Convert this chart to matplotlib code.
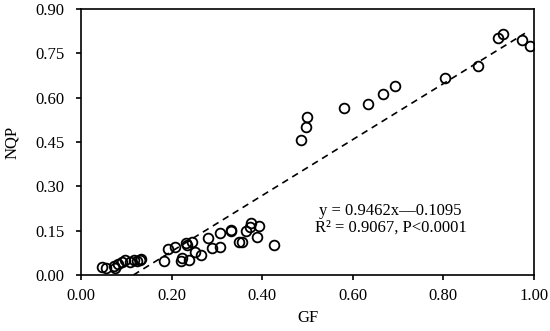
import matplotlib
matplotlib.use("Agg")
import matplotlib.pyplot as plt
import numpy as np

gf = [0.055, 0.047, 0.073, 0.076, 0.082, 0.090, 0.098, 0.108, 0.117, 0.123, 0.133, 0.131,
      0.183, 0.191, 0.207, 0.220, 0.224, 0.232, 0.234, 0.239, 0.246, 0.252, 0.264,
      0.281, 0.289, 0.306, 0.307, 0.331, 0.332, 0.356, 0.348, 0.365, 0.376, 0.373,
      0.392, 0.388, 0.426,
      0.485, 0.496, 0.499, 0.580, 0.633, 0.667, 0.694, 0.804, 0.876, 0.920, 0.931,
      0.973, 0.991]
nqp = [0.023, 0.026, 0.032, 0.025, 0.037, 0.043, 0.051, 0.045, 0.052, 0.047, 0.053, 0.050,
       0.046, 0.088, 0.096, 0.048, 0.056, 0.107, 0.101, 0.052, 0.113, 0.077, 0.068,
       0.124, 0.090, 0.141, 0.096, 0.153, 0.150, 0.113, 0.111, 0.150, 0.176, 0.164,
       0.165, 0.127, 0.101,
       0.457, 0.500, 0.536, 0.564, 0.577, 0.611, 0.638, 0.668, 0.708, 0.803, 0.815,
       0.795, 0.776]
slope, intercept = 0.9462, -0.1095
fit_x = [-intercept / slope, 0.98]
xticks = [0.0, 0.2, 0.4, 0.6, 0.8, 1.0]
yticks = [0.0, 0.15, 0.30, 0.45, 0.60, 0.75, 0.90]

plt.rcParams['font.family'] = ['Liberation Serif', 'DejaVu Serif']
fig = plt.figure(figsize=(5.5, 3.31), dpi=100)
ax = fig.add_axes([81/550, 1-275/331, (534-81)/550, (275-9)/331])

ax.plot(gf, nqp, linestyle='none', marker='o', ms=7, mfc='none', mec='black', mew=1.3, zorder=3)
fx = np.array(fit_x)
ax.plot(fx, slope*fx + intercept, 'k--', lw=1.2, dashes=(4, 3))

ax.set_xlim(0, 1.0)
ax.set_ylim(0, 0.9)
ax.set_xticks(xticks)
ax.set_yticks(yticks)
ax.set_xticklabels([f"{v:.2f}" for v in xticks])
ax.set_yticklabels([f"{v:.2f}" for v in yticks])
ax.tick_params(direction='out', length=3.5, width=1.2, labelsize=12)
ax.tick_params(axis='y', pad=8.5)
ax.tick_params(axis='x', pad=6)
for s in ax.spines.values():
    s.set_linewidth(1.2)
ax.set_xlabel('GF', fontsize=12, labelpad=4)
ax.set_ylabel('NQP', fontsize=12, labelpad=11)

ax.text(0.683, 0.188, 'y = 0.9462x\u20140.1095\nR\u00b2 = 0.9067, P<0.0001', transform=ax.transData,
        fontsize=12, ha='center', va='center', linespacing=1.0)

fig.savefig('out.png', dpi=100)
